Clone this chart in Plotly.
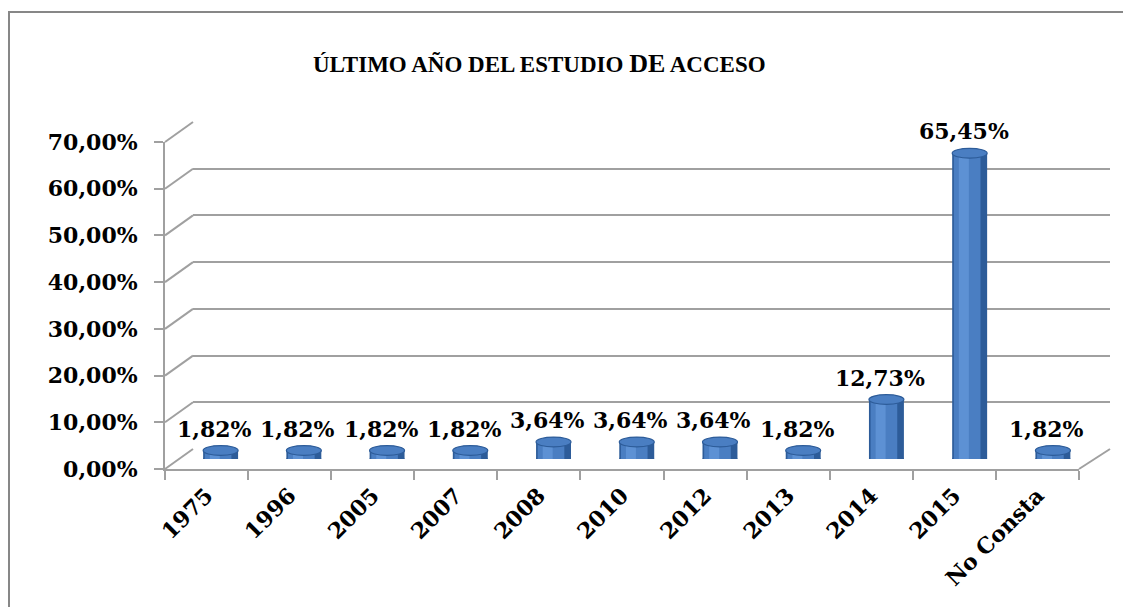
import plotly.graph_objects as go

# ---- data ----
categories = ["1975", "1996", "2005", "2007", "2008", "2010", "2012", "2013", "2014", "2015", "No Consta"]
values = [1.82, 1.82, 1.82, 1.82, 3.64, 3.64, 3.64, 1.82, 12.73, 65.45, 1.82]
y_ticks = [0, 10, 20, 30, 40, 50, 60, 70]
y_tick_labels = ["0,00%", "10,00%", "20,00%", "30,00%", "40,00%", "50,00%", "60,00%", "70,00%"]
title_text = "ÚLTIMO AÑO DEL ESTUDIO <span style='font-size:26px'>DE</span> ACCESO"

# ---- geometry (pixels, page coordinates; page body has an 8px margin) ----
W, H = 1131, 607
OFF = 8
def px(x):
    return (x - OFF) / W
def py(y):
    return (H - (y - OFF)) / H

front_x = [px(165), px(1079)]
front_y = [py(469), py(142)]
back_x = [px(193), px(1110)]
back_y = [py(449), py(122)]
mid_x = [px(179), px(1094.5)]
mid_y = [py(459), py(132)]
YMAX = 70

GRID = "#a0a0a0"
FONT = dict(family="DejaVu Serif", size=22, color="#000000", weight="bold")
C_DARK = "#2d5c99"
C_MID = "#4a7ec2"
C_HI = "#5d91d4"

idx = list(range(len(categories)))
fig = go.Figure()

# back wall subplot (gridlines only)
fig.add_trace(go.Scatter(x=[0, 1], y=[0, 0], mode="markers", marker=dict(opacity=0),
                         xaxis="x2", yaxis="y2", hoverinfo="skip", showlegend=False))

# cylinders (layered bars for shading)
BW = 0.42
fig.add_trace(go.Bar(x=idx, y=values, width=BW, marker=dict(color=C_DARK, line=dict(width=0)),
                     xaxis="x3", yaxis="y3", showlegend=False))
fig.add_trace(go.Bar(x=idx, y=values, width=0.32, offset=-0.19, marker=dict(color=C_MID, line=dict(width=0)),
                     xaxis="x3", yaxis="y3", showlegend=False))
fig.add_trace(go.Bar(x=idx, y=values, width=0.12, offset=-0.13, marker=dict(color=C_HI, line=dict(width=0)),
                     xaxis="x3", yaxis="y3", showlegend=False))

# front axis subplot (labels, ticks)
fig.add_trace(go.Scatter(x=categories, y=[0] * len(categories), mode="markers", marker=dict(opacity=0),
                         xaxis="x", yaxis="y", hoverinfo="skip", showlegend=False))

shapes = []
cap_h = 1.05
for i, v in zip(idx, values):
    shapes.append(dict(type="circle", xref="x3", yref="y3", x0=i - BW / 2, x1=i + BW / 2,
                       y0=-cap_h, y1=cap_h, fillcolor=C_DARK, line=dict(width=0), layer="below"))
    shapes.append(dict(type="circle", xref="x3", yref="y3", x0=i - BW / 2, x1=i + BW / 2,
                       y0=v - cap_h, y1=v + cap_h, fillcolor=C_MID, line=dict(color=C_DARK, width=1.2)))

# left wall diagonals
for t in y_ticks:
    fy = front_y[0] + t / YMAX * (front_y[1] - front_y[0])
    by = back_y[0] + t / YMAX * (back_y[1] - back_y[0])
    shapes.append(dict(type="line", xref="paper", yref="paper", x0=front_x[0], y0=fy, x1=back_x[0], y1=by,
                       line=dict(color=GRID, width=2), layer="below"))
# floor right edge
shapes.append(dict(type="line", xref="paper", yref="paper", x0=front_x[1], y0=front_y[0], x1=back_x[1], y1=back_y[0],
                   line=dict(color=GRID, width=2), layer="below"))
# chart border
shapes.append(dict(type="rect", xref="paper", yref="paper", x0=px(9), y0=py(12), x1=1.05, y1=-0.05,
                   line=dict(color="#878787", width=2), fillcolor="rgba(0,0,0,0)", layer="below"))

annotations = []
for i, v in zip(idx, values):
    annotations.append(dict(x=i, y=v, xref="x3", yref="y3", text=f"{v:.2f}%".replace(".", ","),
                            showarrow=False, yanchor="bottom", yshift=7, xshift=-6, font=FONT))
annotations.append(dict(x=px(539), y=py(63), xref="paper", yref="paper", text=title_text, showarrow=False,
                        font=dict(family="Liberation Serif", size=23, color="#000000", weight="bold"),
                        xanchor="center", yanchor="middle"))

fig.update_layout(
    template="none",
    width=W, height=H, autosize=False,
    margin=dict(l=0, r=0, t=0, b=0, autoexpand=False),
    paper_bgcolor="white", plot_bgcolor="rgba(0,0,0,0)",
    barmode="overlay",
    showlegend=False,
    shapes=shapes, annotations=annotations,
    xaxis=dict(domain=front_x, anchor="y", type="category", categoryorder="array", categoryarray=categories,
               range=[-0.5, len(categories) - 0.5], tickangle=-45, tickson="boundaries",
               ticks="outside", ticklen=9, tickcolor=GRID, tickwidth=2, ticklabelstandoff=3,
               showline=True, linecolor=GRID, linewidth=2, showgrid=False, zeroline=False,
               tickfont=FONT, fixedrange=True, automargin=False),
    yaxis=dict(domain=front_y, anchor="x", range=[0, YMAX], tickmode="array", tickvals=y_ticks,
               ticktext=y_tick_labels,
               ticks="outside", ticklen=9, tickcolor=GRID, tickwidth=2, ticklabelstandoff=12,
               showline=True, linecolor=GRID, linewidth=2, showgrid=False, zeroline=False,
               tickfont=FONT, fixedrange=True, automargin=False),
    xaxis2=dict(domain=back_x, anchor="y2", range=[0, 1], visible=False, fixedrange=True, automargin=False),
    yaxis2=dict(domain=back_y, anchor="x2", range=[0, YMAX], tickvals=y_ticks, showticklabels=False,
                showgrid=True, gridcolor=GRID, gridwidth=2, zeroline=False, showline=False, ticks="",
                fixedrange=True, automargin=False),
    xaxis3=dict(domain=mid_x, anchor="y3", range=[-0.5, len(categories) - 0.5], visible=False,
                fixedrange=True, automargin=False),
    yaxis3=dict(domain=mid_y, anchor="x3", range=[0, YMAX], visible=False, fixedrange=True, automargin=False),
)

fig.write_html("out.html")
